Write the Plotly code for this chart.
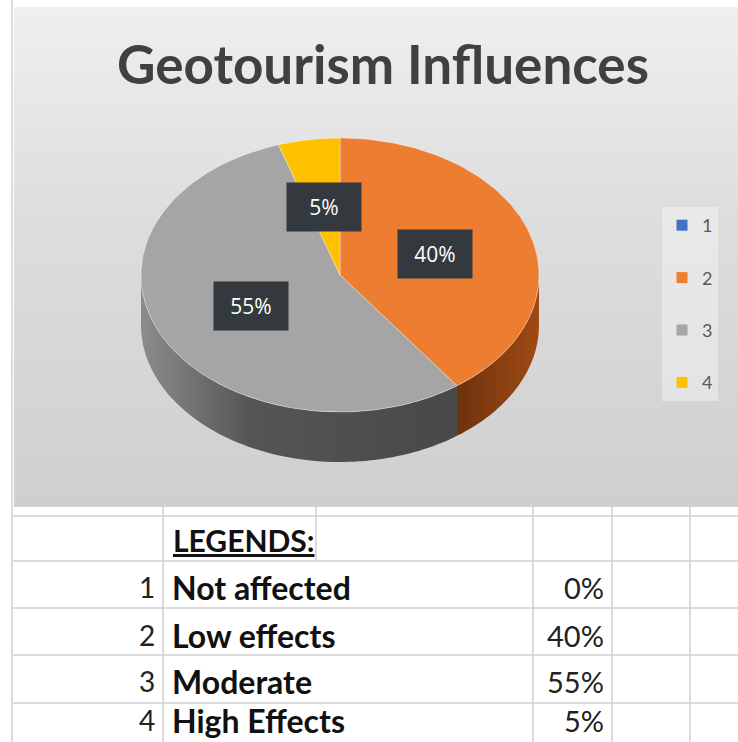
import numpy as np
import plotly.graph_objects as go

# ---------------- data ----------------
title = "Geotourism Influences"
codes = ["1", "2", "3", "4"]
labels = ["Not affected", "Low effects", "Moderate", "High Effects"]
values = [0, 40, 55, 5]
colors = ["#4472C4", "#ED7D31", "#A5A5A5", "#FFC000"]
side_colors = [
    [[0, "#2c4a80"], [1, "#22395f"]],
    [[0, "#6e320c"], [1, "#a04a14"]],
    [[0, "#8c8c8c"], [0.35, "#555555"], [1, "#484848"]],
    [[0, "#a07800"], [1, "#806000"]],
]
legend_header = "LEGENDS:"

# ---------------- geometry (pixel space) ----------------
W, H = 738, 742
CX, CY, RX, RY, DEPTH = 340, 275, 199, 137, 50
FONT = "Lato, Carlito, Calibri, sans-serif"


def pt(theta_deg, r=1.0, dy=0.0):
    t = np.radians(theta_deg)
    return CX + r * RX * np.sin(t), CY - r * RY * np.cos(t) + dy


fig = go.Figure()

# chart area background (vertical gradient, light at top)
fig.add_trace(go.Scatter(
    x=[14, W, W, 14, 14], y=[7, 7, 507, 507, 7], fill="toself", mode="none",
    fillgradient=dict(type="vertical", colorscale=[[0, "#cfcfcf"], [0.6, "#dedede"], [1, "#efefef"]]),
    hoverinfo="skip", showlegend=False))

total = sum(values)
slices = []
start = 0.0
for v in values:
    a0, a1 = start, start + 360.0 * v / total
    slices.append((a0, a1))
    start = a1

# side walls of the 3D pie (front half)
for (a0, a1), sc in zip(slices, side_colors):
    s0, s1 = max(a0, 90.0), min(a1, 270.0)
    if s1 <= s0:
        continue
    th = np.linspace(s0, s1, 80)
    xt, yt = pt(th)
    xb, yb = pt(th[::-1], dy=DEPTH)
    xs = np.concatenate([xt, xb, xt[:1]])
    ys = np.concatenate([yt, yb, yt[:1]])
    fig.add_trace(go.Scatter(
        x=xs, y=ys, fill="toself", mode="none",
        fillgradient=dict(type="horizontal", colorscale=sc),
        hoverinfo="skip", showlegend=False))

# top faces
for (a0, a1), c, v in zip(slices, colors, values):
    if v <= 0:
        continue
    th = np.linspace(a0, a1, 120)
    xa, ya = pt(th)
    xs = np.concatenate([[CX], xa, [CX]])
    ys = np.concatenate([[CY], ya, [CY]])
    fig.add_trace(go.Scatter(
        x=xs, y=ys, fill="toself", fillcolor=c, mode="lines",
        line=dict(color="rgba(255,255,255,0.35)", width=1),
        hoverinfo="skip", showlegend=False))

# legend entries
for code, c in zip(codes, colors):
    fig.add_trace(go.Scatter(
        x=[None], y=[None], mode="markers", name=code, legendgroup=code,
        marker=dict(symbol="square", size=11, color=c)))

annotations = []
# data labels
for (a0, a1), v in zip(slices, values):
    if v <= 0:
        continue
    lx, ly = pt((a0 + a1) / 2.0, r=0.5)
    annotations.append(dict(
        x=float(lx), y=float(ly), xref="x", yref="y", text=f"{v}%", showarrow=False,
        font=dict(family="Open Sans, sans-serif", size=21, color="white"),
        bgcolor="#34393d", width=72, height=46, align="center", valign="middle"))

# title
annotations.append(dict(
    x=383, y=63, xref="x", yref="y", text=f"<b>{title}</b>", showarrow=False,
    font=dict(family=FONT, size=53, color="#404040")))

# table
row_lines = [516, 561, 608, 655, 703]
row_text_y = [540, 587, 635, 681, 720]
annotations.append(dict(
    x=171, y=row_text_y[0], xref="x", yref="y", xanchor="left",
    text=f"<b><u>{legend_header}</u></b>", showarrow=False,
    font=dict(family=FONT, size=30, color="#111111")))
for i, (code, lab, v) in enumerate(zip(codes, labels, values)):
    yy = row_text_y[i + 1]
    annotations.append(dict(x=157, y=yy, xref="x", yref="y", xanchor="right", text=code,
                            showarrow=False, font=dict(family=FONT, size=28, color="#222222")))
    annotations.append(dict(x=170, y=yy, xref="x", yref="y", xanchor="left", text=f"<b>{lab}</b>",
                            showarrow=False, font=dict(family=FONT, size=32, color="#111111")))
    annotations.append(dict(x=606, y=yy, xref="x", yref="y", xanchor="right", text=f"{v}%",
                            showarrow=False, font=dict(family=FONT, size=29, color="#222222")))

shapes = []
grid = dict(color="#cfcfcf", width=1.5)
for yl in row_lines:
    shapes.append(dict(type="line", xref="x", yref="y", x0=13, x1=W, y0=yl, y1=yl, line=grid, layer="below"))
shapes.append(dict(type="line", xref="x", yref="y", x0=12, x1=12, y0=0, y1=H, line=grid, layer="below"))
for xl in [163, 533, 612, 690]:
    shapes.append(dict(type="line", xref="x", yref="y", x0=xl, x1=xl, y0=507, y1=H, line=grid, layer="below"))
shapes.append(dict(type="line", xref="x", yref="y", x0=316, x1=316, y0=507, y1=row_lines[1], line=grid, layer="below"))

fig.update_layout(
    width=W, height=H, margin=dict(l=0, r=0, t=0, b=0),
    paper_bgcolor="white", plot_bgcolor="white",
    xaxis=dict(range=[0, W], visible=False, fixedrange=True),
    yaxis=dict(range=[H, 0], visible=False, fixedrange=True),
    showlegend=True,
    legend=dict(x=662 / W, y=1 - 207 / H, xanchor="left", yanchor="top",
                bgcolor="rgba(244,244,244,0.5)", font=dict(family=FONT, size=18, color="#595959"),
                tracegroupgap=26, itemwidth=30),
    annotations=annotations, shapes=shapes,
)

fig.write_html("out.html", config={"displayModeBar": False},
               post_script="document.body.style.margin='0';")
